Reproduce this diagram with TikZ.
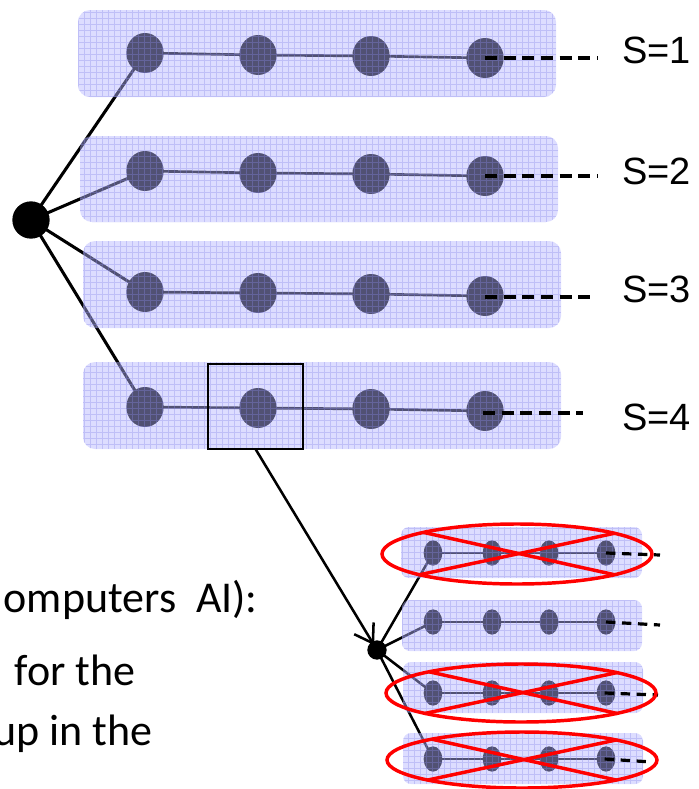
\documentclass[tikz,border=0pt]{standalone}
\usepackage{fontspec}
\setmainfont{Liberation Sans}
\newfontfamily\calib{Carlito}
\usetikzlibrary{arrows.meta,shapes.geometric}

\definecolor{panelblue}{HTML}{B4B4FF}
\definecolor{gridblue}{HTML}{8888E8}

\tikzset{
  bigdot/.style={ellipse, fill=black, inner sep=0, outer sep=0, minimum width=28pt, minimum height=30pt},
  smalldot/.style={ellipse, fill=black, inner sep=0, outer sep=0, minimum width=14pt, minimum height=19pt},
  rootdot/.style={circle, fill=black, inner sep=0, outer sep=0, minimum size=28pt},
  subroot/.style={circle, fill=black, inner sep=0, outer sep=0, minimum size=14.5pt},
  stem/.style={line width=2.3pt},
  substem/.style={line width=1.9pt},
  link/.style={line width=2pt},
  sublink/.style={line width=1.6pt},
  tail/.style={line width=2.4pt, dash pattern=on 9pt off 5pt},
  subtail/.style={line width=2.4pt, dash pattern=on 7pt off 5pt},
  lab/.style={font=\fontsize{28.5}{33}\selectfont, anchor=west, inner sep=0},
  note/.style={font=\calib\fontsize{33}{40}\selectfont, anchor=base east, inner sep=0},
  strike/.style={ellipse, draw=red, line width=2.6pt, inner sep=0, outer sep=0},
  crossline/.style={draw=red, line width=2.6pt},
}

% translucent gridded panel drawn over a row of dots
\newcommand\gridpanel[5]{%
  \fill[panelblue, fill opacity=0.45, rounded corners=#5] (#1,#2) rectangle (#3,#4);
  \begin{scope}
    \clip[rounded corners=#5] (#1,#2) rectangle (#3,#4);
    \draw[gridblue, opacity=0.35, line width=0.35pt, xstep=4.5pt, ystep=4.5pt] (#1,#2) grid (#3,#4);
  \end{scope}}

\begin{document}
\begin{tikzpicture}[x=0.75pt, y=-0.75pt]
\useasboundingbox (0,0) rectangle (699,789);

% ---- main tree ----
\node[rootdot] (root) at (31,220) {};

\foreach \r/\ya/\yb/\yc/\yd in {1/53/55/56/58, 2/171/173/174/176, 3/292/293/294/296, 4/407/408/409/411} {
  \node[bigdot] (r\r n1) at (145,\ya) {};
  \node[bigdot] (r\r n2) at (258,\yb) {};
  \node[bigdot] (r\r n3) at (371,\yc) {};
  \node[bigdot] (r\r n4) at (485,\yd) {};
  \draw[stem] (root.center) -- (r\r n1.center);
  \draw[link] (r\r n1.center) -- (r\r n2.center) -- (r\r n3.center) -- (r\r n4.center);
}

\gridpanel{78}{10}{556}{97}{9pt}
\gridpanel{80}{136}{558}{222}{9pt}
\gridpanel{83}{241}{561}{328}{9pt}
\gridpanel{83}{362}{561}{449}{9pt}

\coordinate (e1) at (598,58);
\coordinate (e2) at (598,176);
\coordinate (e3) at (595,297);
\coordinate (e4) at (583,413);
\draw[tail] (r1n4.center) -- (e1);
\draw[tail] (r2n4.center) -- (e2);
\draw[tail] ([yshift=-0.75pt]r3n4.center) -- (e3);
\draw[tail] ([xshift=-1.5pt, yshift=-1.5pt]r4n4.center) -- (e4);

\node[lab] (s1) at (622,50) {S=1};
\node[lab] (s2) at (622,171) {S=2};
\node[lab] (s3) at (622,289) {S=3};
\node[lab] (s4) at (622,417) {S=4};

\node[draw, line width=2.2pt, inner sep=0, outer sep=0, minimum width=71.25pt, minimum height=63.75pt] (focus) at (255.5,406.5) {};

% ---- expanded subtree ----
\node[subroot] (sub) at (377,650) {};

\foreach \r/\y in {a/553, b/622, c/693, d/759} {
  \node[smalldot] (m\r n1) at (433,\y) {};
  \node[smalldot] (m\r n2) at (492,\y) {};
  \node[smalldot] (m\r n3) at (549,\y) {};
  \node[smalldot] (m\r n4) at (606,\y) {};
  \draw[substem] (sub.center) -- (m\r n1.center);
  \draw[sublink] (m\r n1.center) -- (m\r n2.center) -- (m\r n3.center) -- (m\r n4.center);
}

\gridpanel{401}{527}{642}{578}{6pt}
\gridpanel{402}{600}{642}{651}{6pt}
\gridpanel{403}{662}{643}{713}{6pt}
\gridpanel{403}{733}{643}{784}{6pt}

\coordinate (fa) at (660,555);
\coordinate (fb) at (660,625);
\coordinate (fc) at (658,695);
\coordinate (fd) at (652,762);
\draw[subtail] (man4.center) -- (fa);
\draw[subtail] (mbn4.center) -- (fb);
\draw[subtail] ([xshift=-1pt]mcn4.center) -- (fc);
\draw[subtail] ([xshift=-1pt]mdn4.center) -- (fd);

% struck-out branches
\foreach \r/\cx/\cy/\h in {a/517/554/45, c/521/693/43.5, d/522/760/42} {
  \node[strike, minimum width=202.5pt, minimum height=\h pt] (x\r) at (\cx,\cy) {};
  \draw[crossline] (x\r.167.3) -- (x\r.-12.7);
  \draw[crossline] (x\r.192.7) -- (x\r.12.7);
}

\draw[line width=1.9pt, -{Straight Barb[length=13pt, width=17pt]}, shorten >=-3pt] (focus.south) -- (sub);

% ---- text ----
\node[note] (t1) at (258,612) {omputers\hspace{0.45em}AI):};
\node[note] (t2) at (136,685) {for the};
\node[note] (t3) at (153,745) {up in the};
\end{tikzpicture}
\end{document}
